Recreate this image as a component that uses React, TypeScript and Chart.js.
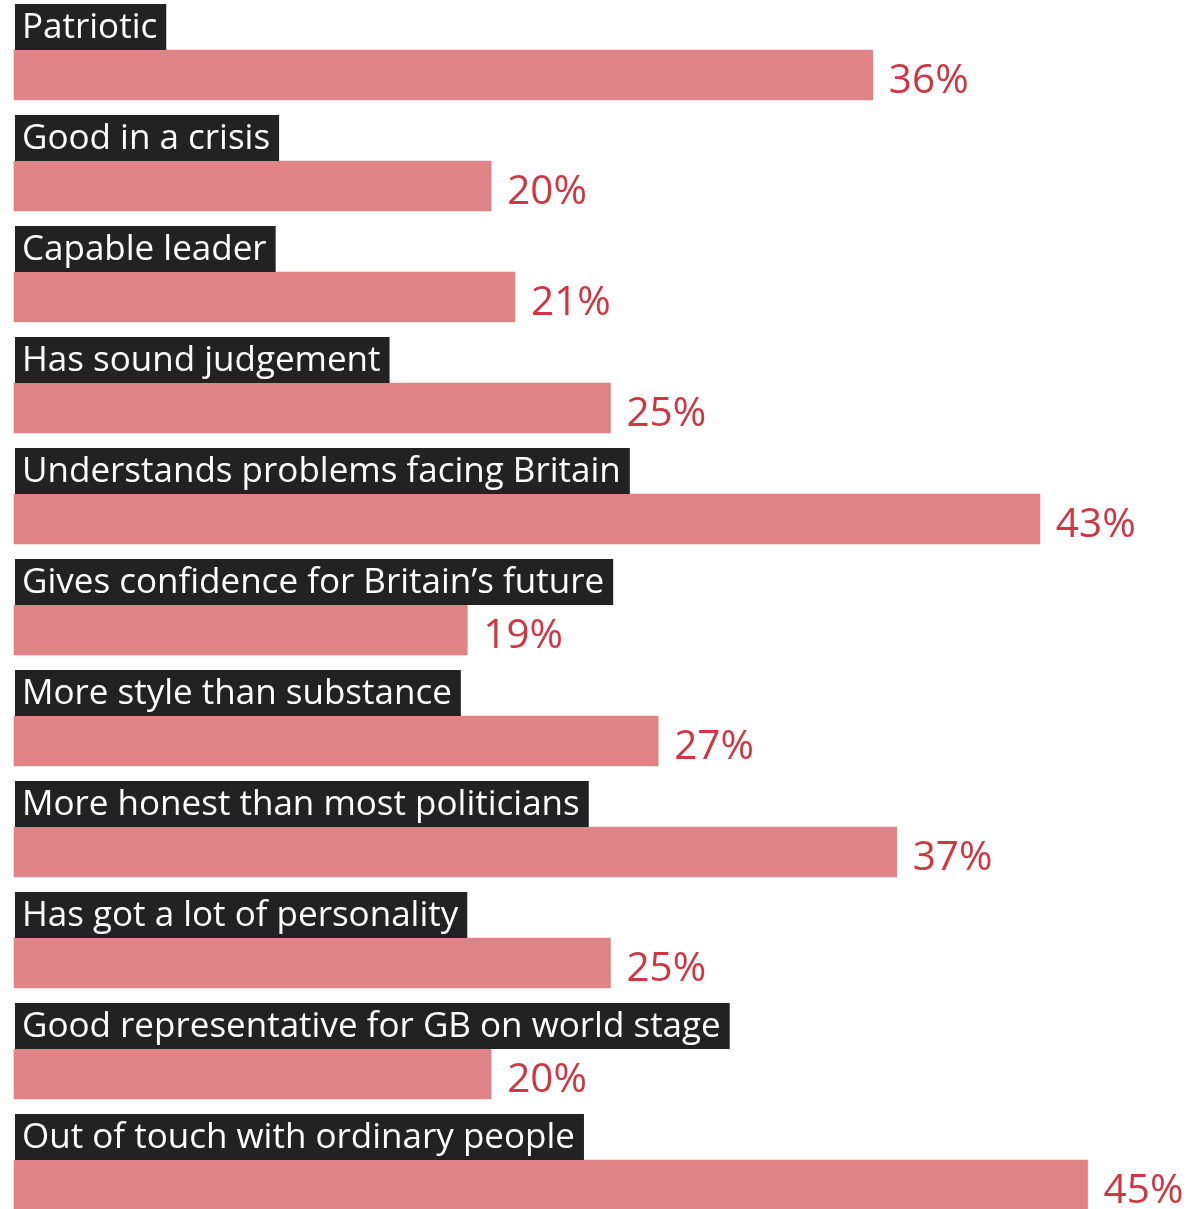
import React, { useEffect, useRef } from "react";
import { Chart, registerables } from "chart.js";

Chart.register(...registerables);

const categories = [
  "Patriotic",
  "Good in a crisis",
  "Capable leader",
  "Has sound judgement",
  "Understands problems facing Britain",
  "Gives confidence for Britain’s future",
  "More style than substance",
  "More honest than most politicians",
  "Has got a lot of personality",
  "Good representative for GB on world stage",
  "Out of touch with ordinary people",
];

const values = [36, 20, 21, 25, 43, 19, 27, 37, 25, 20, 45];

const FONT = "'Open Sans', 'Noto Sans', sans-serif";

const labelPlugin = {
  id: "rowLabels",
  afterDatasetsDraw(chart: any) {
    const ctx = chart.ctx;
    const meta = chart.getDatasetMeta(0);
    ctx.save();
    meta.data.forEach((el: any, i: number) => {
      const top = el.y - el.height / 2;
      // category box
      ctx.font = `35px ${FONT}`;
      const text = categories[i];
      const w = ctx.measureText(text).width;
      const left = chart.chartArea.left + 1;
      ctx.fillStyle = "#222222";
      ctx.fillRect(left, top - 46, w + 16, 46);
      ctx.fillStyle = "#ffffff";
      ctx.textBaseline = "alphabetic";
      ctx.textAlign = "left";
      ctx.fillText(text, left + 7, top - 12);
      // value label
      ctx.font = `40.5px ${FONT}`;
      ctx.fillStyle = "#cf3641";
      ctx.fillText(values[i] + "%", el.x + 16, top + 43);
    });
    ctx.restore();
  },
};

export default function App() {
  const ref = useRef<HTMLCanvasElement>(null);
  useEffect(() => {
    document.body.style.margin = "0";
    const chart = new Chart(ref.current!, {
      type: "bar",
      data: {
        labels: categories,
        datasets: [
          {
            data: values,
            backgroundColor: "#e08387",
            borderWidth: 0,
            barThickness: 50,
            clip: false as any,
          },
        ],
      },
      options: {
        indexAxis: "y",
        animation: false,
        responsive: false,
        maintainAspectRatio: false,
        layout: { padding: { left: 14, right: 15, top: 75, bottom: 24 } },
        plugins: { legend: { display: false }, tooltip: { enabled: false } },
        scales: {
          x: { display: false, min: 0, max: 49, grid: { display: false } },
          y: { display: false, offset: false, grid: { display: false } },
        },
      },
      plugins: [labelPlugin],
    });
    return () => chart.destroy();
  }, []);
  return (
    <div style={{ width: 1198, height: 1209, background: "#fff" }}>
      <canvas ref={ref} width={1198} height={1209} style={{ display: "block" }} />
    </div>
  );
}
